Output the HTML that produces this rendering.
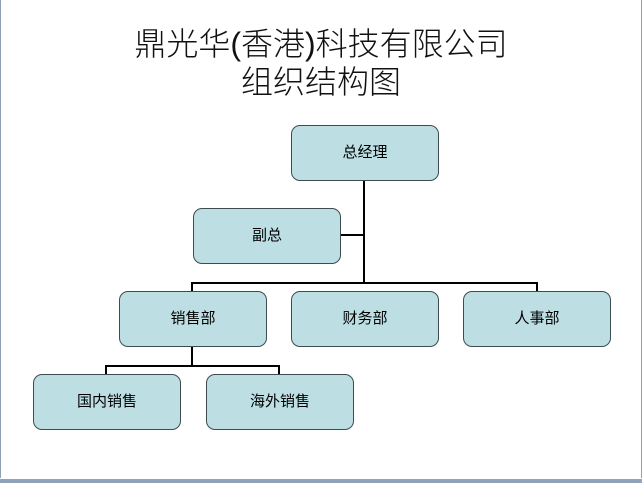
<!DOCTYPE html>
<html><head><meta charset="utf-8"><style>
body{margin:0;width:642px;height:483px;background:#fff;position:relative;overflow:hidden;font-family:"Liberation Sans","Noto Sans CJK SC",sans-serif;}
.frame{position:absolute;left:0;top:0;width:640px;height:478px;border-left:1px solid #8ea0b2;border-right:1px solid #8ea0b2;}
.bot{position:absolute;left:0;top:479px;width:642px;height:4px;background:#8fa3b9;}
.t{position:absolute;left:0;width:642px;text-align:center;font-size:32px;color:#111;line-height:36px;font-weight:300;}
.b{position:absolute;background:#bddfe4;border:1px solid #3d4c50;border-radius:9px;box-sizing:border-box;text-align:center;font-size:15px;color:#000;}
.l{position:absolute;background:#000;}
</style></head><body>
<div class="frame"></div><div class="bot"></div>
<div class="t" style="top:26px">鼎光华(香港)科技有限公司</div>
<div class="t" style="top:64px">组织结构图</div>
<div class="l" style="left:363px;top:180px;width:2px;height:104px"></div>
<div class="l" style="left:191px;top:282px;width:347px;height:2px"></div>
<div class="l" style="left:191px;top:282px;width:2px;height:10px"></div>
<div class="l" style="left:536px;top:282px;width:2px;height:10px"></div>
<div class="l" style="left:340px;top:234px;width:24px;height:2px"></div>
<div class="l" style="left:191px;top:346px;width:2px;height:20px"></div>
<div class="l" style="left:105px;top:365px;width:175px;height:2px"></div>
<div class="l" style="left:105px;top:365px;width:2px;height:10px"></div>
<div class="l" style="left:278px;top:365px;width:2px;height:10px"></div>
<div class="b" style="left:291px;top:125px;width:148px;height:56px;line-height:54px">总经理</div>
<div class="b" style="left:193px;top:208px;width:148px;height:56px;line-height:54px">副总</div>
<div class="b" style="left:119px;top:291px;width:148px;height:56px;line-height:54px">销售部</div>
<div class="b" style="left:291px;top:291px;width:148px;height:56px;line-height:54px">财务部</div>
<div class="b" style="left:463px;top:291px;width:148px;height:56px;line-height:54px">人事部</div>
<div class="b" style="left:33px;top:374px;width:148px;height:56px;line-height:54px">国内销售</div>
<div class="b" style="left:206px;top:374px;width:148px;height:56px;line-height:54px">海外销售</div>
</body></html>
